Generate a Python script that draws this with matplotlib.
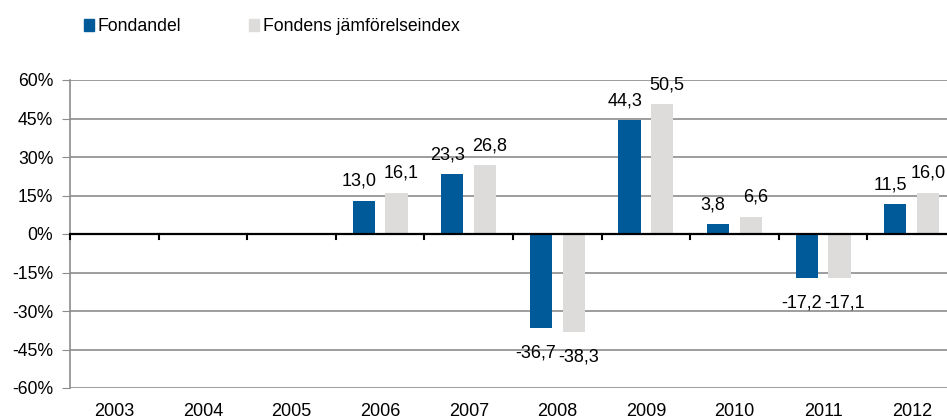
import numpy as np
import matplotlib.pyplot as plt
from matplotlib.patches import Patch

plt.rcParams['font.family'] = ['Liberation Sans', 'DejaVu Sans']

years = ['2003', '2004', '2005', '2006', '2007', '2008', '2009', '2010', '2011', '2012']
fondandel = [np.nan, np.nan, np.nan, 13.0, 23.3, -36.7, 44.3, 3.8, -17.2, 11.5]
index_vals = [np.nan, np.nan, np.nan, 16.1, 26.8, -38.3, 50.5, 6.6, -17.1, 16.0]

blue = '#005A9A'
grey = '#DDDCDA'
fs = 12.7

fig = plt.figure(figsize=(9.47, 4.2), dpi=100)
ax = fig.add_axes([70 / 947, 32 / 420, 886 / 947, 308 / 420])

x = np.arange(len(years))
w = 0.25
ax.bar(x - 0.185, fondandel, w, color=blue, zorder=3)
ax.bar(x + 0.185, index_vals, w, color=grey, zorder=3)

def fmt(v):
    return f'{v:.1f}'.replace('.', ',')

# labels sit a little outward from the bar centre, as in the original
for xs, vals, dx in ((x - 0.185, fondandel, -3.5), (x + 0.185, index_vals, 3.5)):
    for i, (xi, v) in enumerate(zip(xs, vals)):
        if np.isnan(v):
            continue
        d = dx
        if dx > 0 and i == len(years) - 1:
            d = 0  # keep the last one inside the picture
        if v >= 0:
            ax.annotate(fmt(v), (xi, v), xytext=(d, 8), textcoords='offset points',
                        ha='center', va='bottom', fontsize=13)
        else:
            ax.annotate(fmt(v), (xi, v), xytext=(d, -12), textcoords='offset points',
                        ha='center', va='top', fontsize=13)

ax.set_xlim(-0.5, len(years) - 0.5)
ax.set_ylim(-60, 60)
ax.set_yticks(np.arange(-60, 61, 15))
ax.set_yticklabels([f'{t}%' for t in range(-60, 61, 15)], fontsize=fs)
ax.yaxis.grid(True, color='#8C8C8C', linewidth=1.2, zorder=0)
ax.tick_params(axis='y', length=6, color='#8C8C8C', pad=6)

# category labels at the bottom, ticks on the zero line
ax.set_xticks([])
for xi, lab in zip(x, years):
    ax.text(xi, -0.05, lab, transform=ax.get_xaxis_transform(), ha='center', va='top', fontsize=13)
for b in np.arange(-0.5, len(years), 1.0):
    ax.plot([b, b], [0, -1.8], color='black', linewidth=1.5, zorder=4, clip_on=False)
ax.axhline(0, color='black', linewidth=1.6, zorder=4)

for s in ('top', 'right', 'bottom'):
    ax.spines[s].set_visible(False)
ax.spines['left'].set_color('#8C8C8C')
ax.spines['left'].set_linewidth(1.2)

handles = [Patch(color=blue, label='Fondandel'), Patch(color=grey, label='Fondens jämförelseindex')]
fig.legend(handles=handles, loc='upper left', bbox_to_anchor=(68 / 947, 0.995), ncol=2, frameon=False,
           fontsize=fs, handlelength=0.6, handleheight=0.7, handletextpad=0.2, columnspacing=3.8)

fig.savefig('out.png', dpi=100)
